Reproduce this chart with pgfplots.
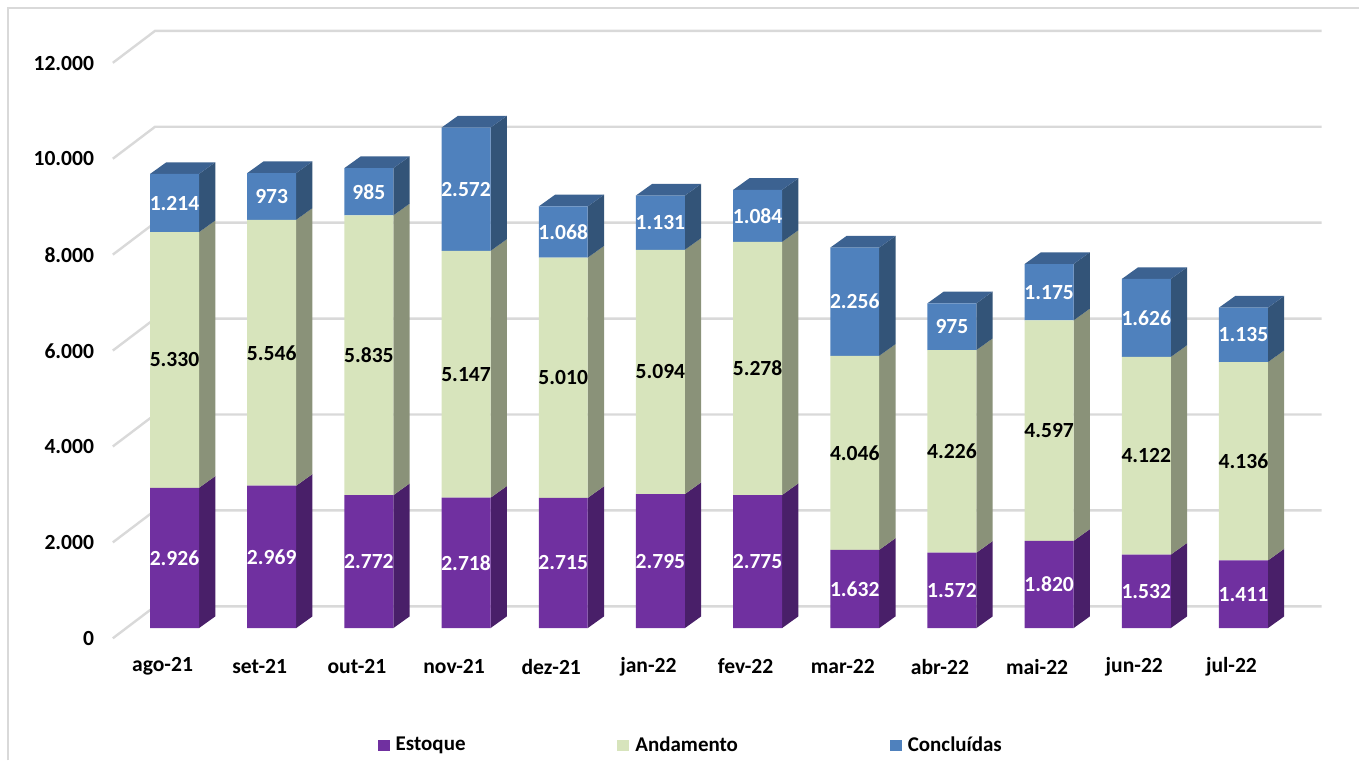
\documentclass[border=0pt]{standalone}
\usepackage{pgfplots}
\pgfplotsset{compat=1.18}
\usepackage{fontspec}
\setmainfont{Carlito}
\definecolor{cE}{HTML}{7030A0}
\definecolor{cA}{HTML}{D7E4BC}
\definecolor{cC}{HTML}{4F81BD}
\definecolor{sE}{HTML}{491F69}
\definecolor{sA}{HTML}{8A9279}
\definecolor{sC}{HTML}{335478}
\definecolor{tC}{HTML}{3C6291}
\definecolor{gridc}{HTML}{D9D9D9}
\def\hw{0.2519}
\def\ddx{0.1676}
\def\ddy{243.75}
\pgfplotsset{
  common/.style={
    scale only axis, width=680pt, height=380.5pt,
    xmin=-1.794, xmax=12.188, ymin=-2760.4, ymax=13093.75,
    enlargelimits=false, clip=false,
  },
}
\begin{document}
\begin{tikzpicture}
\begin{axis}[common,
  axis line style={draw=none}, major tick length=0pt,
  ytick={0,2000,4000,6000,8000,10000,12000},
  scaled y ticks=false,
  xtick={0,1,2,3,4,5,6,7,8,9,10,11},
  xticklabels={ago-21,set-21,out-21,nov-21,dez-21,jan-22,fev-22,mar-22,abr-22,mai-22,jun-22,jul-22},
  /pgf/number format/assume math mode=true,
  /pgf/number format/1000 sep={.},
  /pgf/number format/min exponent for 1000 sep=0,
  every tick label/.append style={font=\bfseries\fontsize{10.8}{12}\selectfont,text=black},
  yticklabel style={anchor=east,xshift=50.5pt,yshift=-5.2pt},
  xticklabel style={anchor=center,xshift=-6pt,yshift=47pt},
]
% frame
\addplot[gridc,line width=1.1pt,forget plot] coordinates {(-1.7169,-2760.4) (-1.7169,12927) (12.188,12927)};
% walls
\foreach \v in {0,2000,4000,6000,8000,10000,12000}{
  \pgfmathsetmacro{\fy}{\v-212.5}
  \pgfmathsetmacro{\by}{\v+454}
  \edef\temp{\noexpand\addplot[gridc,line width=1.2pt,forget plot] coordinates {(-0.635,\fy) (-0.2005,\by) (11.804,\by)};}
  \temp
}
% side and top faces
\foreach \i/\a/\b/\c in {
 0/2926/5330/1214, 1/2969/5546/973, 2/2772/5835/985, 3/2718/5147/2572,
 4/2715/5010/1068, 5/2795/5094/1131, 6/2775/5278/1084, 7/1632/4046/2256,
 8/1572/4226/975, 9/1820/4597/1175, 10/1532/4122/1626, 11/1411/4136/1135}{
  \pgfmathsetmacro{\xl}{\i-\hw}
  \pgfmathsetmacro{\xr}{\i+\hw}
  \pgfmathsetmacro{\xlb}{\xl+\ddx}
  \pgfmathsetmacro{\xrb}{\xr+\ddx}
  \pgfmathsetmacro{\ya}{\a}
  \pgfmathsetmacro{\yb}{\a+\b}
  \pgfmathsetmacro{\yc}{\a+\b+\c}
  \pgfmathsetmacro{\zo}{\ddy}
  \pgfmathsetmacro{\za}{\ya+\ddy}
  \pgfmathsetmacro{\zb}{\yb+\ddy}
  \pgfmathsetmacro{\zc}{\yc+\ddy}
  \edef\temp{%
   \noexpand\addplot[fill=sE,draw=none,forget plot] coordinates {(\xr,0) (\xrb,\zo) (\xrb,\za) (\xr,\ya)} --cycle;
   \noexpand\addplot[fill=sA,draw=none,forget plot] coordinates {(\xr,\ya) (\xrb,\za) (\xrb,\zb) (\xr,\yb)} --cycle;
   \noexpand\addplot[fill=sC,draw=none,forget plot] coordinates {(\xr,\yb) (\xrb,\zb) (\xrb,\zc) (\xr,\yc)} --cycle;
   \noexpand\addplot[fill=tC,draw=none,forget plot] coordinates {(\xl,\yc) (\xlb,\zc) (\xrb,\zc) (\xr,\yc)} --cycle;
  }
  \temp
}
\end{axis}
\begin{axis}[common, hide axis,
  ybar stacked, bar width=0.5037,
  /pgf/number format/assume math mode=true,
  /pgf/number format/1000 sep={.},
  /pgf/number format/min exponent for 1000 sep=0,
  nodes near coords,
  nodes near coords style={font=\bfseries\fontsize{10.8}{12}\selectfont,anchor=center,inner sep=0pt},
  legend style={at={(0.509,0.0197)},anchor=center,draw=none,fill=none,
    legend columns=3,font=\bfseries\fontsize{10.5}{12}\selectfont,
    /tikz/every even column/.append style={column sep=74pt},
    /tikz/every odd column/.append style={column sep=1.1pt},inner sep=0pt},
  legend image code/.code={\fill[#1] (0pt,-2.9pt) rectangle (5.9pt,2.9pt);},
]
\addplot[fill=cE,draw=none,nodes near coords style={text=white}] coordinates {(0,2926)(1,2969)(2,2772)(3,2718)(4,2715)(5,2795)(6,2775)(7,1632)(8,1572)(9,1820)(10,1532)(11,1411)};
\addplot[fill=cA,draw=none,nodes near coords style={text=black}] coordinates {(0,5330)(1,5546)(2,5835)(3,5147)(4,5010)(5,5094)(6,5278)(7,4046)(8,4226)(9,4597)(10,4122)(11,4136)};
\addplot[fill=cC,draw=none,nodes near coords style={text=white}] coordinates {(0,1214)(1,973)(2,985)(3,2572)(4,1068)(5,1131)(6,1084)(7,2256)(8,975)(9,1175)(10,1626)(11,1135)};
\legend{Estoque,Andamento,Concluídas}
\end{axis}
\end{tikzpicture}
\end{document}
